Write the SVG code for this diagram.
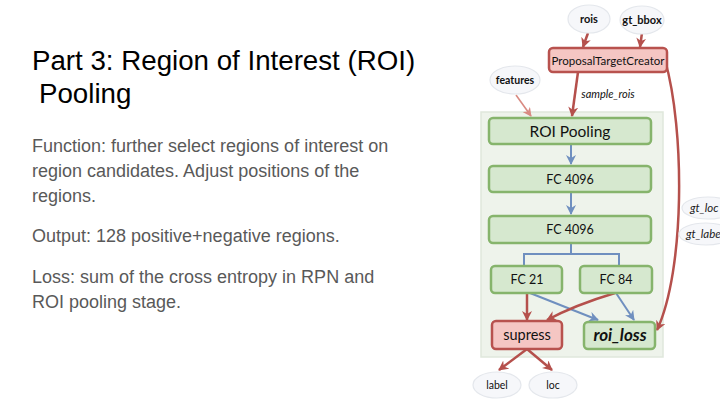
<svg xmlns="http://www.w3.org/2000/svg" width="720" height="405" viewBox="0 0 720 405">
<defs>
<style>
.title{font-family:"Liberation Sans",Arial,sans-serif;font-size:27.7px;fill:#000}
.body{font-family:"Liberation Sans",Arial,sans-serif;font-size:18px;fill:#595959}
.g{fill:#d6e8cf;stroke:#86b46c;stroke-width:2.5}
.r{fill:#f5c6c3;stroke:#b8524e;stroke-width:2.5}
.ell{fill:#f6f7fa;stroke:#e4e7ec;stroke-width:1.2}
.lb{font-family:Lato,"Open Sans",sans-serif;fill:#111;text-anchor:middle}
.red{fill:none;stroke:#b5504c;stroke-width:2.5}
.blue{fill:none;stroke:#6f8fbf;stroke-width:2}
</style>
<marker id="ar" viewBox="0 0 10 10" refX="9" refY="5" markerWidth="10" markerHeight="10" markerUnits="userSpaceOnUse" orient="auto"><path d="M0,0 L10,5 L0,10 L3,5 z" fill="#b5504c"/></marker>
<marker id="ab" viewBox="0 0 10 10" refX="9" refY="5" markerWidth="10" markerHeight="10" markerUnits="userSpaceOnUse" orient="auto"><path d="M0,0 L10,5 L0,10 L3,5 z" fill="#6f8fbf"/></marker>
<marker id="al" viewBox="0 0 10 10" refX="9" refY="5" markerWidth="9" markerHeight="9" markerUnits="userSpaceOnUse" orient="auto"><path d="M0,0 L10,5 L0,10 L3,5 z" fill="#d98a82"/></marker>
</defs>
<rect width="720" height="405" fill="#fff"/>
<g id="text">
<text class="title" x="32" y="70">Part 3: Region of Interest (ROI)</text>
<text class="title" x="39" y="103">Pooling</text>
<text class="body" x="32" y="152">Function: further select regions of interest on</text>
<text class="body" x="32" y="177">region candidates. Adjust positions of the</text>
<text class="body" x="32" y="202">regions.</text>
<text class="body" x="32" y="242">Output: 128 positive+negative regions.</text>
<text class="body" x="32" y="283">Loss: sum of the cross entropy in RPN and</text>
<text class="body" x="32" y="308">ROI pooling stage.</text>
</g>
<g id="panel"><rect x="481" y="112" width="182" height="245" fill="#eef3eb" stroke="#dfe7dc" stroke-width="1.5"/></g>
<g id="connectors">
<path class="red" d="M588,33 L583,47" marker-end="url(#ar)"/>
<path class="red" d="M642,33 L640,47" marker-end="url(#ar)"/>
<path d="M516,95 L531,116" fill="none" stroke="#d98a82" stroke-width="1.6" marker-end="url(#al)"/>
<path class="red" d="M578,72 L572,116" marker-end="url(#ar)"/>
<path class="blue" d="M571,144 L571,164" marker-end="url(#ab)"/>
<path class="blue" d="M571,192 L571,214" marker-end="url(#ab)"/>
<path class="blue" d="M571,243 L571,254 M524,266 L524,254 L619,254 L619,266"/>
<path class="blue" d="M530,293 L598,320" marker-end="url(#ab)"/>
<path class="blue" d="M616,293 L634,320" marker-end="url(#ab)"/>
<path class="red" d="M527,293 L527,320" marker-end="url(#ar)"/>
<path class="red" d="M615,293 Q575,305 547,320" marker-end="url(#ar)"/>
<path class="red" d="M527,349 L499,370" marker-end="url(#ar)"/>
<path class="red" d="M527,349 L552,370" marker-end="url(#ar)"/>
<path class="red" d="M665,60 C685,130 685,270 657,330" marker-end="url(#ar)"/>
<text x="608" y="98" class="lb" font-size="11" font-style="italic" fill="#222">sample_rois</text>
</g>
<g id="rois"><ellipse class="ell" cx="589" cy="19" rx="21" ry="14"/><text class="lb" x="589" y="23" font-size="11" font-weight="bold">rois</text></g>
<g id="gt_bbox"><ellipse class="ell" cx="642" cy="20" rx="22" ry="14"/><text class="lb" x="642" y="24" font-size="11" font-weight="bold">gt_bbox</text></g>
<g id="features"><ellipse class="ell" cx="515" cy="80" rx="25" ry="14"/><text class="lb" x="515" y="84" font-size="10.5" font-weight="bold">features</text></g>
<g id="ptc"><rect class="r" x="549" y="48" width="118" height="24" rx="4"/><text class="lb" x="608" y="65" font-size="11.5">ProposalTargetCreator</text></g>
<g id="roi_pooling"><rect class="g" x="489" y="118" width="162" height="26" rx="4"/><text class="lb" x="570" y="137" font-size="15.5">ROI Pooling</text></g>
<g id="fc4096a"><rect class="g" x="489" y="166" width="162" height="26" rx="4"/><text class="lb" x="570" y="184" font-size="12.5">FC 4096</text></g>
<g id="fc4096b"><rect class="g" x="489" y="216" width="162" height="27" rx="4"/><text class="lb" x="570" y="234" font-size="12.5">FC 4096</text></g>
<g id="fc21"><rect class="g" x="491" y="266" width="71" height="27" rx="4"/><text class="lb" x="527" y="284" font-size="12.5">FC 21</text></g>
<g id="fc84"><rect class="g" x="580" y="266" width="72" height="27" rx="4"/><text class="lb" x="616" y="284" font-size="12.5">FC 84</text></g>
<g id="supress"><rect class="r" x="492" y="321" width="70" height="28" rx="4"/><text class="lb" x="527" y="340" font-size="14.5">supress</text></g>
<g id="roi_loss"><rect class="g" x="584" y="322" width="71" height="27" rx="4"/><text class="lb" x="620" y="341" font-size="17" font-weight="bold" font-style="italic">roi_loss</text></g>
<g id="label"><ellipse class="ell" cx="497" cy="385" rx="24" ry="13"/><text class="lb" x="497" y="389" font-size="10.5">label</text></g>
<g id="loc"><ellipse class="ell" cx="553" cy="385" rx="24" ry="13"/><text class="lb" x="553" y="389" font-size="10.5">loc</text></g>
<g id="gt_loc"><ellipse class="ell" cx="708" cy="208" rx="26" ry="11"/><text x="690" y="212" font-family="Lato,sans-serif" font-size="11.5" font-style="italic" fill="#222">gt_loc</text></g>
<g id="gt_label"><ellipse class="ell" cx="706" cy="234" rx="27" ry="11"/><text x="686" y="238" font-family="Lato,sans-serif" font-size="11.5" font-style="italic" fill="#222">gt_label</text></g>
</svg>
